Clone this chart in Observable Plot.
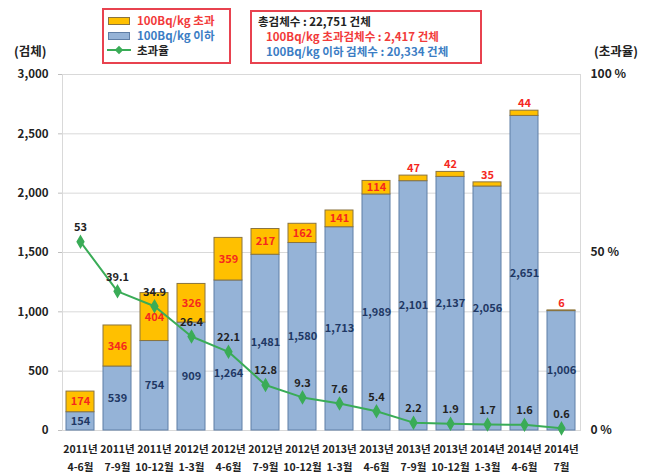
<!DOCTYPE html>
<html>
<head>
<meta charset="utf-8">
<script src="https://cdn.jsdelivr.net/npm/d3@7"></script>
<script src="https://cdn.jsdelivr.net/npm/@observablehq/plot@0.6"></script>
<style>
  html, body { margin: 0; padding: 0; background: #fff; }
  #wrap { position: relative; width: 648px; height: 474px; font-family: "Noto Sans CJK KR", "Noto Sans", sans-serif; font-weight: bold; }
  .abs { position: absolute; white-space: nowrap; line-height: 1; }
  .box { position: absolute; border: 2px solid #e8424f; box-sizing: border-box; background: #fff; }
  .red { color: #f23a3a; }
  .blue { color: #3b7dc4; }
  .dark { color: #222; }
</style>
</head>
<body>
<div id="wrap"></div>
<script>
const categories = [
  "2011년\n4-6월", "2011년\n7-9월", "2011년\n10-12월", "2012년\n1-3월", "2012년\n4-6월",
  "2012년\n7-9월", "2012년\n10-12월", "2013년\n1-3월", "2013년\n4-6월", "2013년\n7-9월",
  "2013년\n10-12월", "2014년\n1-3월", "2014년\n4-6월", "2014년\n7월"
];
const below = [154, 539, 754, 909, 1264, 1481, 1580, 1713, 1989, 2101, 2137, 2056, 2651, 1006];
const above = [174, 346, 404, 326, 359, 217, 162, 141, 114, 47, 42, 35, 44, 6];
const rate = [53, 39.1, 34.9, 26.4, 22.1, 12.8, 9.3, 7.6, 5.4, 2.2, 1.9, 1.7, 1.6, 0.6];
const leftTicks = [0, 500, 1000, 1500, 2000, 2500, 3000];
const rightTicks = [0, 50, 100];
const countMax = 3000;
const rateMax = 100;

const k = countMax / rateMax;
const data = categories.map((c, i) => ({
  i, cat: c, below: below[i], above: above[i], total: below[i] + above[i], rate: rate[i], rateY: rate[i] * k
}));

const blue = "#95b3d7", orange = "#ffc000", green = "#3aac57";
const fmt = d3.format(",");
// the blue label of 2012 4-6 sits lower in the reference, clear of the rate label
const nudged = d => d.i === 4;

const chart = Plot.plot({
  width: 648,
  height: 474,
  marginTop: 74,
  marginBottom: 44,
  marginLeft: 62,
  marginRight: 68,
  style: { fontFamily: "'Noto Sans CJK KR', 'Noto Sans', sans-serif", fontSize: "11px", fontWeight: "bold", color: "#222", background: "#fff" },
  x: { domain: categories, paddingInner: 0.24, paddingOuter: 0.12, axis: null },
  y: { domain: [0, countMax], axis: null },
  marks: [
    Plot.ruleY(leftTicks, { stroke: "#d9d9d9", strokeWidth: 1 }),
    Plot.frame({ stroke: "#d9d9d9" }),
    Plot.axisY({ anchor: "left", ticks: leftTicks, tickFormat: fmt, tickSize: 4, tickPadding: 10, stroke: "#bfbfbf", fill: "#222", fontSize: 11.5, label: null }),
    Plot.axisY({ anchor: "right", ticks: rightTicks.map(t => t * k), tickFormat: d => `${d / k} %`, tickSize: 0, tickPadding: 10, fill: "#222", fontSize: 12, label: null }),
    Plot.axisX({ anchor: "bottom", tickSize: 0, tickPadding: 10, lineHeight: 1.7, fill: "#222", fontSize: 10.5, label: null }),
    Plot.barY(data, { x: "cat", y1: 0, y2: "below", fill: blue, stroke: "#5f7ea6", strokeWidth: 1 }),
    Plot.barY(data, { x: "cat", y1: "below", y2: "total", fill: orange, stroke: "#8a7440", strokeWidth: 1 }),
    Plot.text(data.filter(d => !nudged(d)), { x: "cat", y: d => d.below / 2, text: d => fmt(d.below), fill: "#1f3864", fontSize: 11 }),
    Plot.text(data.filter(nudged), { x: "cat", y: d => d.below / 2, dy: 18, text: d => fmt(d.below), fill: "#1f3864", fontSize: 11 }),
    Plot.text(data.filter(d => d.above >= 100), { x: "cat", y: d => d.below + d.above / 2, text: "above", fill: "#f5281e", fontSize: 11 }),
    Plot.text(data.filter(d => d.above < 100), { x: "cat", y: "total", dy: -7, text: "above", fill: "#f5281e", fontSize: 11 }),
    Plot.line(data, { x: "cat", y: "rateY", stroke: green, strokeWidth: 2 }),
    Plot.dot(data, { x: "cat", y: "rateY", symbol: "diamond", r: 3.5, fill: green, stroke: green }),
    Plot.text(data, { x: "cat", y: "rateY", dy: -14, text: "rate", fill: "#222", fontSize: 11 })
  ]
});

const wrap = document.getElementById("wrap");
chart.style.position = "absolute";
chart.style.left = "0px";
chart.style.top = "0px";
wrap.appendChild(chart);

function el(html, style, cls) {
  const d = document.createElement("div");
  d.className = cls || "abs";
  d.innerHTML = html;
  Object.assign(d.style, style);
  wrap.appendChild(d);
  return d;
}

// axis titles
el("(검체)", { left: "14px", top: "45px", fontSize: "12.5px", color: "#222" });
el("(초과율)", { left: "594px", top: "45px", fontSize: "12.5px", color: "#222" });

// legend box
el("", { left: "102px", top: "8px", width: "129px", height: "56px" }, "box");
el("", { left: "108px", top: "17px", width: "22px", height: "8px", background: orange, border: "1px solid #8a7440", boxSizing: "border-box" });
el("", { left: "108px", top: "32px", width: "22px", height: "8px", background: blue, border: "1px solid #5f7ea6", boxSizing: "border-box" });
el("", { left: "107px", top: "49px", width: "24px", height: "2px", background: green });
el("", { left: "116px", top: "47px", width: "6px", height: "6px", background: green, transform: "rotate(45deg)" });
el("100Bq/kg 초과", { left: "137px", top: "15px", fontSize: "11.5px" }, "abs red");
el("100Bq/kg 이하", { left: "137px", top: "30px", fontSize: "11.5px" }, "abs blue");
el("초과율", { left: "137px", top: "45px", fontSize: "11.5px" }, "abs dark");

// summary box
el("", { left: "250px", top: "10px", width: "232px", height: "54px" }, "box");
el("총검체수 : 22,751 건체", { left: "258px", top: "16px", fontSize: "11.5px" }, "abs dark");
el("100Bq/kg 초과검체수 : 2,417 건체", { left: "266px", top: "31px", fontSize: "11.5px" }, "abs red");
el("100Bq/kg 이하 검체수 : 20,334 건체", { left: "266px", top: "46px", fontSize: "11.5px" }, "abs blue");
</script>
</body>
</html>
